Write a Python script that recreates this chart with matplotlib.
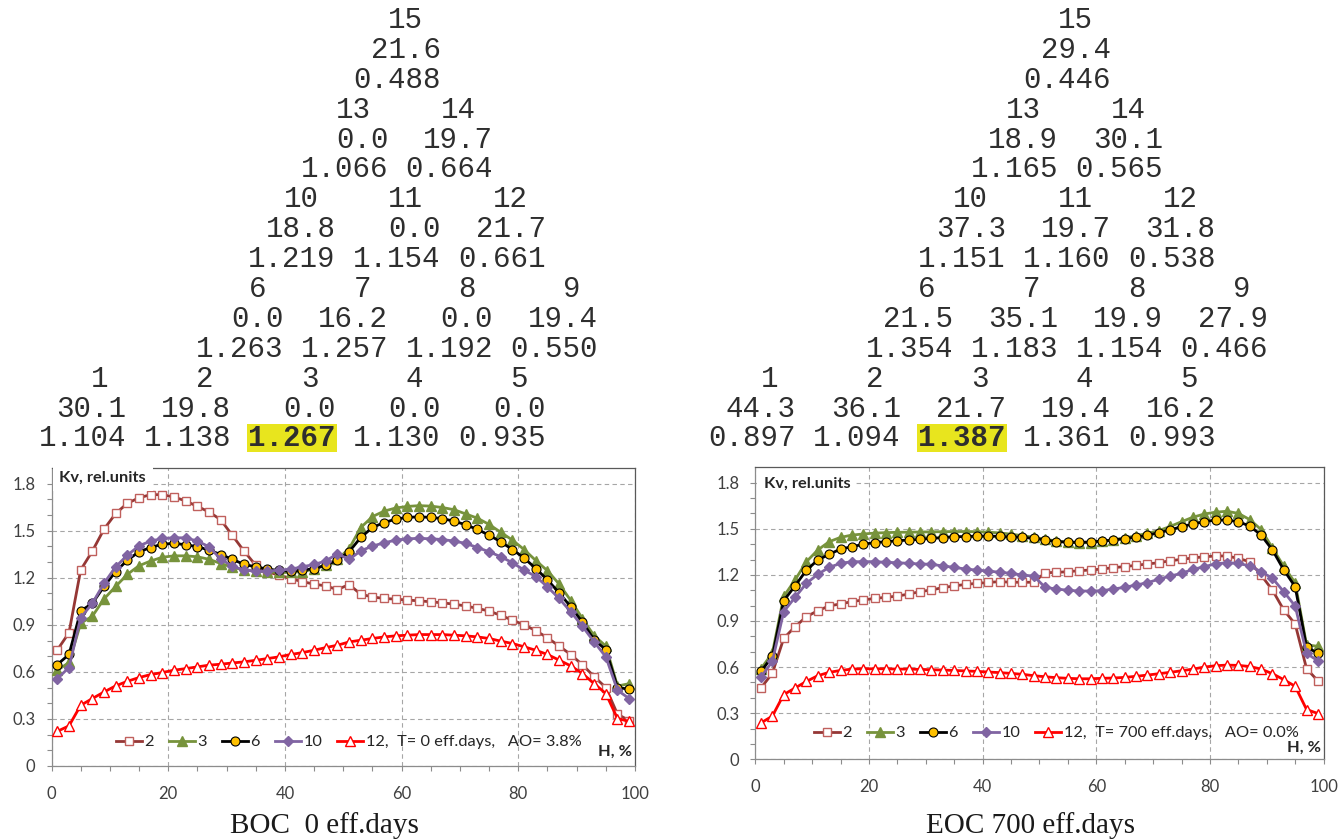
import numpy as np
import matplotlib
matplotlib.use("Agg")
import matplotlib.pyplot as plt
from matplotlib.patches import Rectangle

# ---------------- data ----------------
H = list(range(1, 100, 2))  # core height, %

boc_2 = [0.74, 0.85, 1.25, 1.37, 1.51, 1.61, 1.675, 1.71, 1.73, 1.73,
         1.715, 1.69, 1.655, 1.62, 1.57, 1.47, 1.37, 1.28, 1.24, 1.215,
         1.195, 1.175, 1.16, 1.148, 1.125, 1.157, 1.095, 1.078, 1.068, 1.064,
         1.058, 1.053, 1.047, 1.040, 1.032, 1.020, 1.005, 0.988, 0.96, 0.93,
         0.90, 0.863, 0.817, 0.765, 0.71, 0.645, 0.57, 0.50, 0.33, 0.29]
boc_3 = [0.61, 0.66, 0.91, 0.955, 1.065, 1.145, 1.222, 1.277, 1.307, 1.331,
         1.34, 1.34, 1.334, 1.318, 1.291, 1.267, 1.25, 1.242, 1.238, 1.234,
         1.234, 1.24, 1.255, 1.28, 1.318, 1.385, 1.52, 1.59, 1.625, 1.645,
         1.655, 1.66, 1.657, 1.648, 1.634, 1.607, 1.58, 1.54, 1.49, 1.44,
         1.38, 1.31, 1.245, 1.16, 1.055, 0.94, 0.83, 0.765, 0.51, 0.525]
boc_6 = [0.647, 0.711, 0.988, 1.037, 1.145, 1.24, 1.312, 1.366, 1.393, 1.415,
         1.419, 1.411, 1.398, 1.377, 1.348, 1.318, 1.285, 1.27, 1.255, 1.247,
         1.242, 1.249, 1.259, 1.28, 1.312, 1.366, 1.457, 1.521, 1.552, 1.574,
         1.585, 1.589, 1.585, 1.577, 1.561, 1.538, 1.508, 1.472, 1.429, 1.38,
         1.326, 1.259, 1.187, 1.104, 1.015, 0.917, 0.805, 0.742, 0.50, 0.49]
boc_10 = [0.557, 0.628, 0.945, 1.037, 1.165, 1.27, 1.344, 1.404, 1.434, 1.451,
          1.455, 1.455, 1.434, 1.398, 1.319, 1.274, 1.249, 1.242, 1.242, 1.249,
          1.255, 1.27, 1.285, 1.307, 1.353, 1.317, 1.372, 1.402, 1.423, 1.44,
          1.449, 1.451, 1.449, 1.444, 1.434, 1.419, 1.393, 1.366, 1.334, 1.296,
          1.249, 1.208, 1.142, 1.068, 0.983, 0.89, 0.791, 0.696, 0.483, 0.43]
boc_12 = [0.221, 0.256, 0.387, 0.43, 0.472, 0.511, 0.54, 0.564, 0.583, 0.596,
          0.611, 0.621, 0.632, 0.643, 0.649, 0.657, 0.664, 0.674, 0.685, 0.696,
          0.711, 0.723, 0.738, 0.755, 0.77, 0.791, 0.802, 0.813, 0.823, 0.83,
          0.834, 0.838, 0.838, 0.838, 0.834, 0.83, 0.823, 0.813, 0.796, 0.781,
          0.76, 0.738, 0.711, 0.675, 0.638, 0.589, 0.525, 0.462, 0.302, 0.285]

eoc_2 = [0.464, 0.56, 0.787, 0.863, 0.928, 0.967, 0.998, 1.011, 1.026, 1.037,
         1.047, 1.054, 1.062, 1.075, 1.091, 1.102, 1.117, 1.128, 1.138, 1.145,
         1.151, 1.156, 1.152, 1.152, 1.152, 1.214, 1.216, 1.221, 1.227, 1.232,
         1.238, 1.247, 1.254, 1.262, 1.271, 1.279, 1.292, 1.301, 1.31, 1.318,
         1.323, 1.323, 1.307, 1.286, 1.199, 1.101, 0.971, 0.88, 0.59, 0.51]
eoc_3 = [0.59, 0.69, 1.06, 1.167, 1.286, 1.362, 1.416, 1.444, 1.459, 1.466,
         1.472, 1.475, 1.477, 1.478, 1.479, 1.48, 1.481, 1.482, 1.482, 1.481,
         1.478, 1.473, 1.465, 1.455, 1.445, 1.432, 1.42, 1.412, 1.408, 1.41,
         1.418, 1.428, 1.44, 1.455, 1.47, 1.488, 1.515, 1.546, 1.575, 1.596,
         1.608, 1.614, 1.6, 1.56, 1.495, 1.375, 1.255, 1.148, 0.745, 0.735]
eoc_6 = [0.572, 0.669, 1.032, 1.129, 1.231, 1.297, 1.334, 1.368, 1.383, 1.399,
         1.41, 1.416, 1.422, 1.427, 1.431, 1.438, 1.442, 1.449, 1.449, 1.453,
         1.453, 1.45, 1.448, 1.444, 1.438, 1.427, 1.416, 1.414, 1.412, 1.414,
         1.42, 1.427, 1.436, 1.446, 1.457, 1.475, 1.492, 1.514, 1.531, 1.546,
         1.557, 1.557, 1.546, 1.518, 1.459, 1.362, 1.232, 1.123, 0.73, 0.69]
eoc_10 = [0.535, 0.637, 0.961, 1.054, 1.145, 1.204, 1.249, 1.275, 1.286, 1.286,
          1.286, 1.282, 1.279, 1.275, 1.271, 1.269, 1.258, 1.249, 1.238, 1.231,
          1.225, 1.217, 1.21, 1.199, 1.192, 1.119, 1.108, 1.1, 1.095, 1.095,
          1.097, 1.108, 1.119, 1.134, 1.149, 1.172, 1.192, 1.21, 1.236, 1.253,
          1.272, 1.279, 1.275, 1.258, 1.221, 1.178, 1.09, 0.997, 0.69, 0.64]
eoc_12 = [0.237, 0.281, 0.421, 0.464, 0.507, 0.544, 0.566, 0.578, 0.587, 0.589,
          0.589, 0.589, 0.587, 0.587, 0.585, 0.583, 0.581, 0.578, 0.575, 0.572,
          0.568, 0.564, 0.559, 0.553, 0.544, 0.537, 0.531, 0.527, 0.524, 0.524,
          0.527, 0.529, 0.533, 0.540, 0.548, 0.557, 0.566, 0.576, 0.587, 0.600,
          0.609, 0.613, 0.611, 0.604, 0.587, 0.557, 0.518, 0.475, 0.324, 0.298]

series_names = ["2", "3", "6", "10", "12"]
boc_series = [boc_2, boc_3, boc_6, boc_10, boc_12]
eoc_series = [eoc_2, eoc_3, eoc_6, eoc_10, eoc_12]
boc_legend_tail = ",  T= 0 eff.days,   AO= 3.8%"
eoc_legend_tail = ",  T= 700 eff.days,   AO= 0.0%"
boc_caption = "BOC  0 eff.days"
eoc_caption = "EOC 700 eff.days"

# cartogram (cells 1..15): burnup and relative power
cells = list(range(1, 16))
row_sizes = [5, 4, 3, 2, 1]
boc_burnup = [30.1, 19.8, 0.0, 0.0, 0.0, 0.0, 16.2, 0.0, 19.4, 18.8, 0.0, 21.7, 0.0, 19.7, 21.6]
boc_kq = [1.104, 1.138, 1.267, 1.130, 0.935, 1.263, 1.257, 1.192, 0.550,
          1.219, 1.154, 0.661, 1.066, 0.664, 0.488]
eoc_burnup = [44.3, 36.1, 21.7, 19.4, 16.2, 21.5, 35.1, 19.9, 27.9, 37.3, 19.7, 31.8, 18.9, 30.1, 29.4]
eoc_kq = [0.897, 1.094, 1.387, 1.361, 0.993, 1.354, 1.183, 1.154, 0.466,
          1.151, 1.160, 0.538, 1.165, 0.565, 0.446]

# ---------------- figure ----------------
W, HT = 1339, 839
fig = plt.figure(figsize=(W / 100, HT / 100), dpi=100)


def fx(px):
    return px / W


def fy(py):
    return 1 - py / HT


MONO = "Liberation Mono"
CW = 17.48          # px per character
ROW = 29.9          # px per text row
Y0 = 19.3           # first row centre
row_col_offsets = [0, 9, 12, 15, 18]
TXT = "#2e2e2e"


def draw_cartogram(x0, burnup, kq):
    imax = int(np.argmax(kq))
    idx = 0
    for g, n in enumerate(row_sizes):
        yl = Y0 + ROW * 3 * (4 - g)
        for i in range(n):
            start = row_col_offsets[g] + 6 * i
            xr = x0 + (start + 5) * CW
            fig.text(fx(x0 + (start + 4) * CW), fy(yl + 8.6), str(cells[idx]),
                     ha="right", va="baseline", family=MONO, fontsize=21, color=TXT)
            fig.text(fx(xr), fy(yl + ROW + 8.6), f"{burnup[idx]:.1f}",
                     ha="right", va="baseline", family=MONO, fontsize=21, color=TXT)
            bold = idx == imax
            if bold:
                bx0 = x0 + start * CW - 1.5
                fig.patches.append(Rectangle((fx(bx0), fy(yl + 2 * ROW + 14)),
                                             (5 * CW + 3) / W, 28 / HT,
                                             transform=fig.transFigure,
                                             facecolor="#E8E51E", edgecolor="none", zorder=1))
            fig.text(fx(xr), fy(yl + 2 * ROW + 8.6), f"{kq[idx]:.3f}",
                     ha="right", va="baseline", family=MONO, fontsize=21, color=TXT,
                     weight="bold" if bold else "normal", zorder=3)
            idx += 1


draw_cartogram(38.7, boc_burnup, boc_kq)
draw_cartogram(708.5, eoc_burnup, eoc_kq)

# ---------------- charts ----------------
SANS = "Lato"
styles = [
    dict(color="#953735", marker="s", mfc="white", mec="#C0605D", ms=6.0, mew=1.0, lw=2.0),
    dict(color="#77933C", marker="^", mfc="#77933C", mec="#77933C", ms=7.0, mew=1.0, lw=2.0),
    dict(color="#000000", marker="o", mfc="#FFC000", mec="#000000", ms=6.5, mew=0.8, lw=2.0),
    dict(color="#8064A2", marker="D", mfc="#8064A2", mec="#8064A2", ms=5.0, mew=1.0, lw=2.0),
    dict(color="#FF0000", marker="^", mfc="white", mec="#FF0000", ms=7.0, mew=1.0, lw=2.0),
]


def make_chart(rect, series, tail, legend_xy, label_box, label_xy, hx_y, caption, cap_x):
    ax = fig.add_axes(rect)
    handles = []
    for name, ys, st in zip(series_names, series, styles):
        h, = ax.plot(H, ys, clip_on=False, zorder=3, **st)
        handles.append(h)
    ax.set_xlim(0, 100)
    ax.set_ylim(0, 1.9)
    ax.set_xticks(range(0, 101, 20))
    ax.set_xticks(range(0, 101, 5), minor=True)
    ax.set_yticks([0, 0.3, 0.6, 0.9, 1.2, 1.5, 1.8])
    ax.set_yticks(np.arange(0, 1.85, 0.1), minor=True)
    ax.set_yticklabels(["0", "0.3", "0.6", "0.9", "1.2", "1.5", "1.8"])
    ax.grid(True, which="major", color="#A6A6A6", lw=0.8, ls=(0, (4, 3)))
    ax.tick_params(which="both", direction="out", length=3.5, width=0.8, color="#8c8c8c")
    ax.tick_params(axis="y", which="major", pad=8, labelsize=12, labelcolor="#404040")
    ax.tick_params(axis="x", which="major", pad=11, labelsize=12, labelcolor="#404040")
    for t in ax.get_xticklabels() + ax.get_yticklabels():
        t.set_family(SANS)
    for s in ["left", "bottom"]:
        ax.spines[s].set_color("#8c8c8c")
    for s in ["top", "right"]:
        ax.spines[s].set_color("#595959")
    for s in ax.spines.values():
        s.set_linewidth(0.9)
    labels = series_names[:-1] + [series_names[-1] + tail]
    ax.legend(handles, labels, ncol=5, frameon=False, loc="center left",
              bbox_to_anchor=(fx(legend_xy[0]), fy(legend_xy[1])),
              bbox_transform=fig.transFigure, borderaxespad=0, borderpad=0,
              handlelength=1.6, handletextpad=0.15, columnspacing=0.9,
              numpoints=1, prop=dict(family=SANS, size=11.8), labelcolor="#262626")
    bx0, by0, bx1, by1 = label_box
    fig.patches.append(Rectangle((fx(bx0), fy(by1)), (bx1 - bx0) / W, (by1 - by0) / HT,
                                 transform=fig.transFigure, facecolor="white",
                                 edgecolor="none", zorder=2))
    fig.text(fx(label_xy[0]), fy(label_xy[1]), "Kv, rel.units", ha="left", va="center",
             family=SANS, weight="bold", fontsize=11.8, color="#262626", zorder=4)
    fig.text(fx(hx_y[0]), fy(hx_y[1]), "H, %", ha="right", va="center",
             family=SANS, weight="bold", fontsize=11.8, color="#262626", zorder=4)
    fig.text(fx(cap_x), fy(826), caption, ha="center", va="center",
             family="Liberation Serif", fontsize=21, color="#1a1a1a")
    return ax


make_chart([fx(51.5), fy(766), (635 - 51.5) / W, (766 - 468) / HT],
           boc_series, boc_legend_tail, (116, 742),
           (53, 460, 153, 491), (59, 477.5), (632, 752), boc_caption, 324)
make_chart([fx(755.3), fy(759.3), (1323.6 - 755.3) / W, (759.3 - 467.3) / HT],
           eoc_series, eoc_legend_tail, (814, 733),
           (756.5, 469, 855, 495), (764, 484), (1321, 748), eoc_caption, 1031)

fig.savefig("out.png", dpi=100)
